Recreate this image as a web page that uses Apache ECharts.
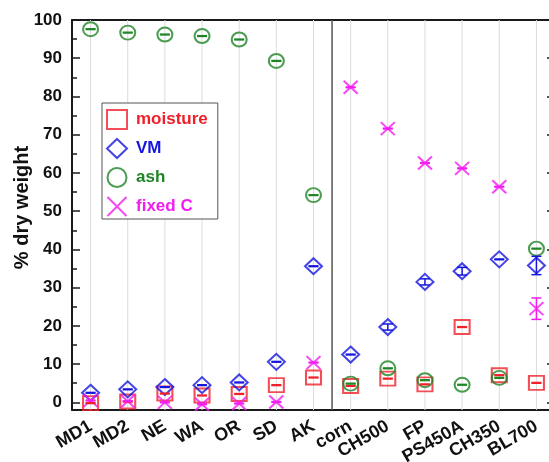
<!DOCTYPE html>
<html>
<head>
<meta charset="utf-8">
<script src="https://cdn.jsdelivr.net/npm/echarts@6/dist/echarts.min.js"></script>
<style>
  html, body { margin: 0; padding: 0; background: #fff; }
  #chart { width: 549px; height: 462px; }
</style>
</head>
<body>
<div id="chart"></div>
<script>
// Samples: field soils on the left, chars / biomass on the right of the divider
const categories = ['MD1', 'MD2', 'NE', 'WA', 'OR', 'SD', 'AK', 'corn', 'CH500', 'FP', 'PS450A', 'CH350', 'BL700'];
const lastFieldSample = 'AK';

// Proximate analysis, % dry weight
const moisture    = [-0.2, 0.2, 2.3, 1.8, 2.2, 4.5, 6.5, 4.3, 6.2, 4.7, 19.7, 7.1, 5.1];
const moistureErr = [0.1, 0.1, 0.1, 0.1, 0.1, 0.1, 0.1, 0.1, 0.1, 0.1, 0.1, 0.1, 0.1];
const vm          = [2.5, 3.4, 4.0, 4.5, 5.2, 10.6, 35.6, 12.5, 19.7, 31.5, 34.3, 37.4, 35.8];
const vmErr       = [0.1, 0.1, 0.1, 0.1, 0.1, 0.1, 0.1, 0.1, 0.8, 0.8, 1.0, 0.1, 2.4];
const ash         = [97.6, 96.7, 96.2, 95.8, 94.9, 89.3, 54.2, 4.9, 8.9, 5.8, 4.6, 6.4, 40.2];
const ashErr      = [0.1, 0.1, 0.1, 0.1, 0.1, 0.1, 0.1, 0.1, 0.1, 0.1, 0.1, 0.1, 0.1];
const fixedC      = [0.5, 0.3, 0.0, -0.5, -0.3, 0.1, 10.4, 82.4, 71.6, 62.6, 61.2, 56.4, 24.5];
const fixedCErr   = [0.1, 0.1, 0.1, 0.1, 0.1, 0.1, 0.1, 0.1, 0.1, 0.1, 0.1, 0.1, 2.8];

// Y axis ticks
const yMajorTicks = [0, 10, 20, 30, 40, 50, 60, 70, 80, 90, 100];
const yMinorTicks = [5, 15, 25, 35, 45, 55, 65, 75, 85, 95];
const yMin = -2;
const yMax = 100;

const FONT = '"Liberation Sans", Arial, sans-serif';
const COLORS = { moisture: '#f0202a', vm: '#1515e0', ash: '#1f8526', fixedC: '#f21cf0' };
const AXIS_COLOR = '#1a1a1a';

const chart = echarts.init(document.getElementById('chart'), null, { renderer: 'canvas' });

function markerSeries(name, values, symbol, size, color) {
  return {
    type: 'scatter',
    name: name,
    data: values.map((v, i) => [i, v]),
    symbol: symbol,
    symbolSize: size,
    itemStyle: { color: 'rgba(255,255,255,0)', borderColor: color, borderWidth: 2 },
    emphasis: { disabled: true },
    z: 4
  };
}

function errorBarSeries(name, values, errs, color) {
  return {
    type: 'custom',
    name: name,
    silent: true,
    z: 5,
    data: values.map((v, i) => [i, v - errs[i], v + errs[i]]),
    encode: { x: 0, y: [1, 2] },
    renderItem: function (params, api) {
      const x = api.value(0);
      const lo = api.coord([x, api.value(1)]);
      const hi = api.coord([x, api.value(2)]);
      const hw = 5;
      const st = { stroke: color, lineWidth: 1.5 };
      return {
        type: 'group',
        children: [
          { type: 'line', shape: { x1: lo[0], y1: lo[1], x2: hi[0], y2: hi[1] }, style: st },
          { type: 'line', shape: { x1: lo[0] - hw, y1: lo[1], x2: lo[0] + hw, y2: lo[1] }, style: st },
          { type: 'line', shape: { x1: hi[0] - hw, y1: hi[1], x2: hi[0] + hw, y2: hi[1] }, style: st }
        ]
      };
    }
  };
}

// Light vertical guide through each sample
const guideSeries = {
  type: 'custom',
  name: 'guides',
  silent: true,
  z: 1,
  data: categories.map((c, i) => [i, 0]),
  renderItem: function (params, api) {
    const x = api.coord([api.value(0), 0])[0];
    const cs = params.coordSys;
    return {
      type: 'line',
      shape: { x1: x, y1: cs.y, x2: x, y2: cs.y + cs.height },
      style: { stroke: '#dcdcdc', lineWidth: 1 }
    };
  }
};

// Divider between the field samples and the rest
const dividerSeries = {
  type: 'custom',
  name: 'divider',
  silent: true,
  z: 2,
  data: [[categories.indexOf(lastFieldSample), 0]],
  renderItem: function (params, api) {
    const x = api.coord([api.value(0), 0])[0] + api.size([1, 0])[0] / 2;
    const cs = params.coordSys;
    return {
      type: 'line',
      shape: { x1: x, y1: cs.y, x2: x, y2: cs.y + cs.height },
      style: { stroke: '#555', lineWidth: 1.5 }
    };
  }
};

function yAxisDef(position, ticks, len, showLine, showLabels, extra) {
  return Object.assign({
    type: 'value',
    position: position,
    min: yMin,
    max: yMax,
    axisLine: { show: showLine, onZero: false, lineStyle: { color: AXIS_COLOR, width: 2 } },
    axisTick: { show: true, inside: true, length: len, customValues: ticks, lineStyle: { color: AXIS_COLOR, width: 1.5 } },
    axisLabel: showLabels
      ? { show: true, customValues: ticks, margin: 10, color: '#111', fontFamily: FONT, fontWeight: 'bold', fontSize: 17 }
      : { show: false },
    splitLine: { show: false }
  }, extra || {});
}

const option = {
  animation: false,
  backgroundColor: '#fff',
  grid: { left: 72, width: 483, top: 20, bottom: 52, containLabel: false, outerBoundsMode: 'none' },
  legend: {
    orient: 'vertical',
    left: 102,
    top: 103,
    padding: [6, 10, 2, 4],
    itemWidth: 20,
    itemHeight: 19,
    itemGap: 8,
    backgroundColor: '#fff',
    borderColor: '#555',
    borderWidth: 1,
    borderRadius: 0,
    selectedMode: false,
    textStyle: { fontFamily: FONT, fontWeight: 'bold', fontSize: 17, padding: [0, 0, 0, 4] },
    data: [
      { name: 'moisture', textStyle: { color: COLORS.moisture } },
      { name: 'VM', textStyle: { color: COLORS.vm } },
      { name: 'ash', textStyle: { color: COLORS.ash } },
      { name: 'fixed C', textStyle: { color: COLORS.fixedC } }
    ]
  },
  xAxis: [
    {
      type: 'category',
      data: categories,
      boundaryGap: true,
      position: 'bottom',
      axisLine: { onZero: false, lineStyle: { color: AXIS_COLOR, width: 2 } },
      axisTick: { show: false },
      axisLabel: { interval: 0, rotate: 30, margin: 15, color: '#111', fontFamily: FONT, fontWeight: 'bold', fontSize: 18 },
      splitLine: { show: false }
    },
    {
      type: 'category',
      data: categories,
      boundaryGap: true,
      position: 'top',
      axisLine: { onZero: false, lineStyle: { color: AXIS_COLOR, width: 2 } },
      axisTick: { show: false },
      axisLabel: { show: false },
      splitLine: { show: false }
    }
  ],
  yAxis: [
    yAxisDef('left', yMajorTicks, 8, true, true, {
      name: '% dry weight',
      nameLocation: 'middle',
      nameGap: 40,
      nameMoveOverlap: false,
      nameTextStyle: { color: '#111', fontFamily: FONT, fontWeight: 'bold', fontSize: 20, padding: [0, 0, 0, 15] }
    }),
    yAxisDef('left', yMinorTicks, 5, false, false),
    yAxisDef('right', yMajorTicks, 8, true, false),
    yAxisDef('right', yMinorTicks, 5, false, false)
  ],
  series: [
    guideSeries,
    dividerSeries,
    markerSeries('moisture', moisture, 'rect', [15, 14], COLORS.moisture),
    errorBarSeries('moisture error', moisture, moistureErr, COLORS.moisture),
    markerSeries('VM', vm, 'diamond', [17, 16], COLORS.vm),
    errorBarSeries('VM error', vm, vmErr, COLORS.vm),
    markerSeries('ash', ash, 'circle', [15, 14], COLORS.ash),
    errorBarSeries('ash error', ash, ashErr, COLORS.ash),
    markerSeries('fixed C', fixedC, 'path://M0,0L10,10M10,0L0,10', [14, 13], COLORS.fixedC),
    errorBarSeries('fixed C error', fixedC, fixedCErr, COLORS.fixedC)
  ]
};

chart.setOption(option);
</script>
</body>
</html>
